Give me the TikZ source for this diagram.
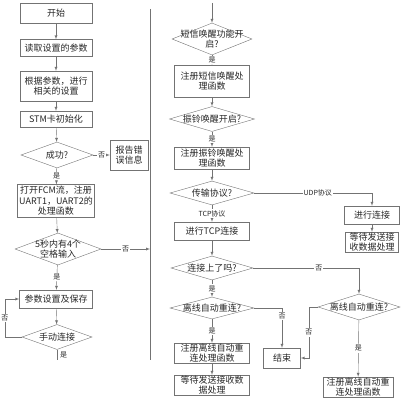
\documentclass[tikz,border=0pt]{standalone}
\usepackage{fontspec}
\setmainfont{Noto Sans CJK SC}
\usetikzlibrary{shapes.geometric}

\tikzset{
	proc/.style={draw=black!55, rectangle, align=center, inner sep=0pt,
		text=black!85, font=\fontsize{9}{10.5}\selectfont},
	dec/.style={draw=black!55, diamond, inner sep=0pt},
	dtext/.style={align=center, inner sep=0pt, text=black!85,
		font=\fontsize{9}{10.5}\selectfont},
	lbl/.style={fill=white, inner sep=1pt, text=black!85,
		font=\fontsize{7}{8}\selectfont},
	line/.style={draw=black!55},
	arr/.style={draw=black!55, -latex},
}

\begin{document}
\begin{tikzpicture}[x=1pt, y=-1pt]
	\useasboundingbox (0,0) rectangle (407,404);
	% left column
	\node[proc, minimum width=72, minimum height=20] (start) at (56,13) {开始};
	\node[proc, minimum width=72, minimum height=17] (read) at (56,48) {读取设置的参数};
	\node[proc, minimum width=72, minimum height=30] (set) at (56,86) {根据参数，进行\\相关的设置};
	\node[proc, minimum width=72, minimum height=16] (stm) at (56,119) {STM卡初始化};
	\node[dec, minimum width=72, minimum height=26, label={[dtext]center:成功?}] (ok) at (57,155) {};
	\node[proc, minimum width=38, minimum height=30] (err) at (129,155) {报告错\\误信息};
	\node[proc, minimum width=77, minimum height=33] (fcm) at (56,201) {打开FCM流，注册\\UART1，UART2的\\处理函数};
	\node[dec, minimum width=86, minimum height=32, label={[dtext]center:5秒内有4个\\空格输入}] (space) at (58,249) {};
	\node[proc, minimum width=73, minimum height=18] (param) at (56,299) {参数设置及保存};
	\node[dec, minimum width=70, minimum height=25, label={[dtext]center:手动连接}] (manual) at (57,337) {};
	\coordinate (leftend) at (57,360);

	\draw[arr] (start) -- (read);
	\draw[arr] (read) -- (set);
	\draw[arr] (set) -- (stm);
	\draw[arr] (stm) -- (ok);
	\draw[arr] (ok) -- node[lbl]{否} (err);
	\draw[arr] (ok) -- node[lbl]{是} (fcm);
	\draw[arr] (fcm) -- (space);
	\draw[arr] (space) -- node[lbl]{是} (param);
	\draw[arr] (param) -- (manual);
	\draw[arr] (manual.west) -- ++(-17,0) |- node[lbl, pos=0.25]{否} (param.west);
	\draw[line] (manual.south) -- node[lbl, right=2pt]{是} (leftend);

	% separator
	\coordinate (septop) at (150,9);
	\coordinate (sepbot) at (150,360);
	\draw[line] (septop) -- (sepbot);
	\draw[arr] (space.east) -- node[lbl]{否} (space.east -| septop);

	% right column
	\coordinate (rtop) at (212,3);
	\node[dec, minimum width=80, minimum height=32, label={[dtext]center:短信唤醒功能开\\启?}] (sms) at (212,39) {};
	\node[proc, minimum width=75, minimum height=32] (smsreg) at (212,81) {注册短信唤醒处\\理函数};
	\node[dec, minimum width=85, minimum height=25, label={[dtext]center:振铃唤醒开启?}] (ring) at (212,119) {};
	\node[proc, minimum width=75, minimum height=22] (ringreg) at (212,158) {注册振铃唤醒处\\理函数};
	\node[dec, minimum width=84, minimum height=24, label={[dtext]center:传输协议?}] (proto) at (212,193) {};
	\node[proc, minimum width=75, minimum height=18] (tcp) at (212,231) {进行TCP连接};
	\node[dec, minimum width=82, minimum height=24, label={[dtext]center:连接上了吗?}] (conn) at (212,268) {};
	\node[dec, minimum width=84, minimum height=22, label={[dtext]center:离线自动重连?}] (reconna) at (212,308) {};
	\node[proc, minimum width=75, minimum height=20] (rega) at (212,353) {注册离线自动重\\连处理函数};
	\node[proc, minimum width=75, minimum height=20] (waita) at (212,385) {等待发送接收数\\据处理};

	\node[proc, minimum width=55, minimum height=18] (udpconn) at (372,215) {进行连接};
	\node[proc, minimum width=53, minimum height=20] (udpwait) at (372,242) {等待发送接\\收数据处理};
	\node[proc, minimum width=37, minimum height=20] (finish) at (282,358) {结束};
	\node[dec, minimum width=82, minimum height=26, label={[dtext]center:离线自动重连?}] (reconnb) at (359,307) {};
	\node[proc, minimum width=70, minimum height=20] (regb) at (358,387) {注册离线自动重\\连处理函数};

	\draw[arr] (rtop) -- (sms);
	\draw[arr] (sms) -- node[lbl]{是} (smsreg);
	\draw[arr] (smsreg) -- (ring);
	\draw[arr] (ring) -- node[lbl]{是} (ringreg);
	\draw[arr] (ringreg) -- (proto);
	\draw[arr] (proto) -- node[lbl]{TCP协议} (tcp);
	\draw[arr] (proto.east) -| node[lbl, pos=0.27]{UDP协议} (udpconn);
	\draw[arr] (udpconn) -- (udpwait);
	\draw[arr] (tcp) -- (conn);
	\draw[arr] (conn) -- node[lbl]{是} (reconna);
	\draw[arr] (conn.east) -| node[lbl, pos=0.31]{否} (reconnb);
	\draw[arr] (reconna) -- node[lbl]{是} (rega);
	\draw[arr] (rega) -- (waita);
	\draw[arr] (reconna.east) -| node[lbl, pos=0.6]{否} (finish);
	\draw[arr] (reconnb.west) -- ++(-9,0) |- node[lbl, pos=0.25]{否} (finish.east);
	\draw[arr] (reconnb) -- node[lbl]{是} (regb);
\end{tikzpicture}
\end{document}
